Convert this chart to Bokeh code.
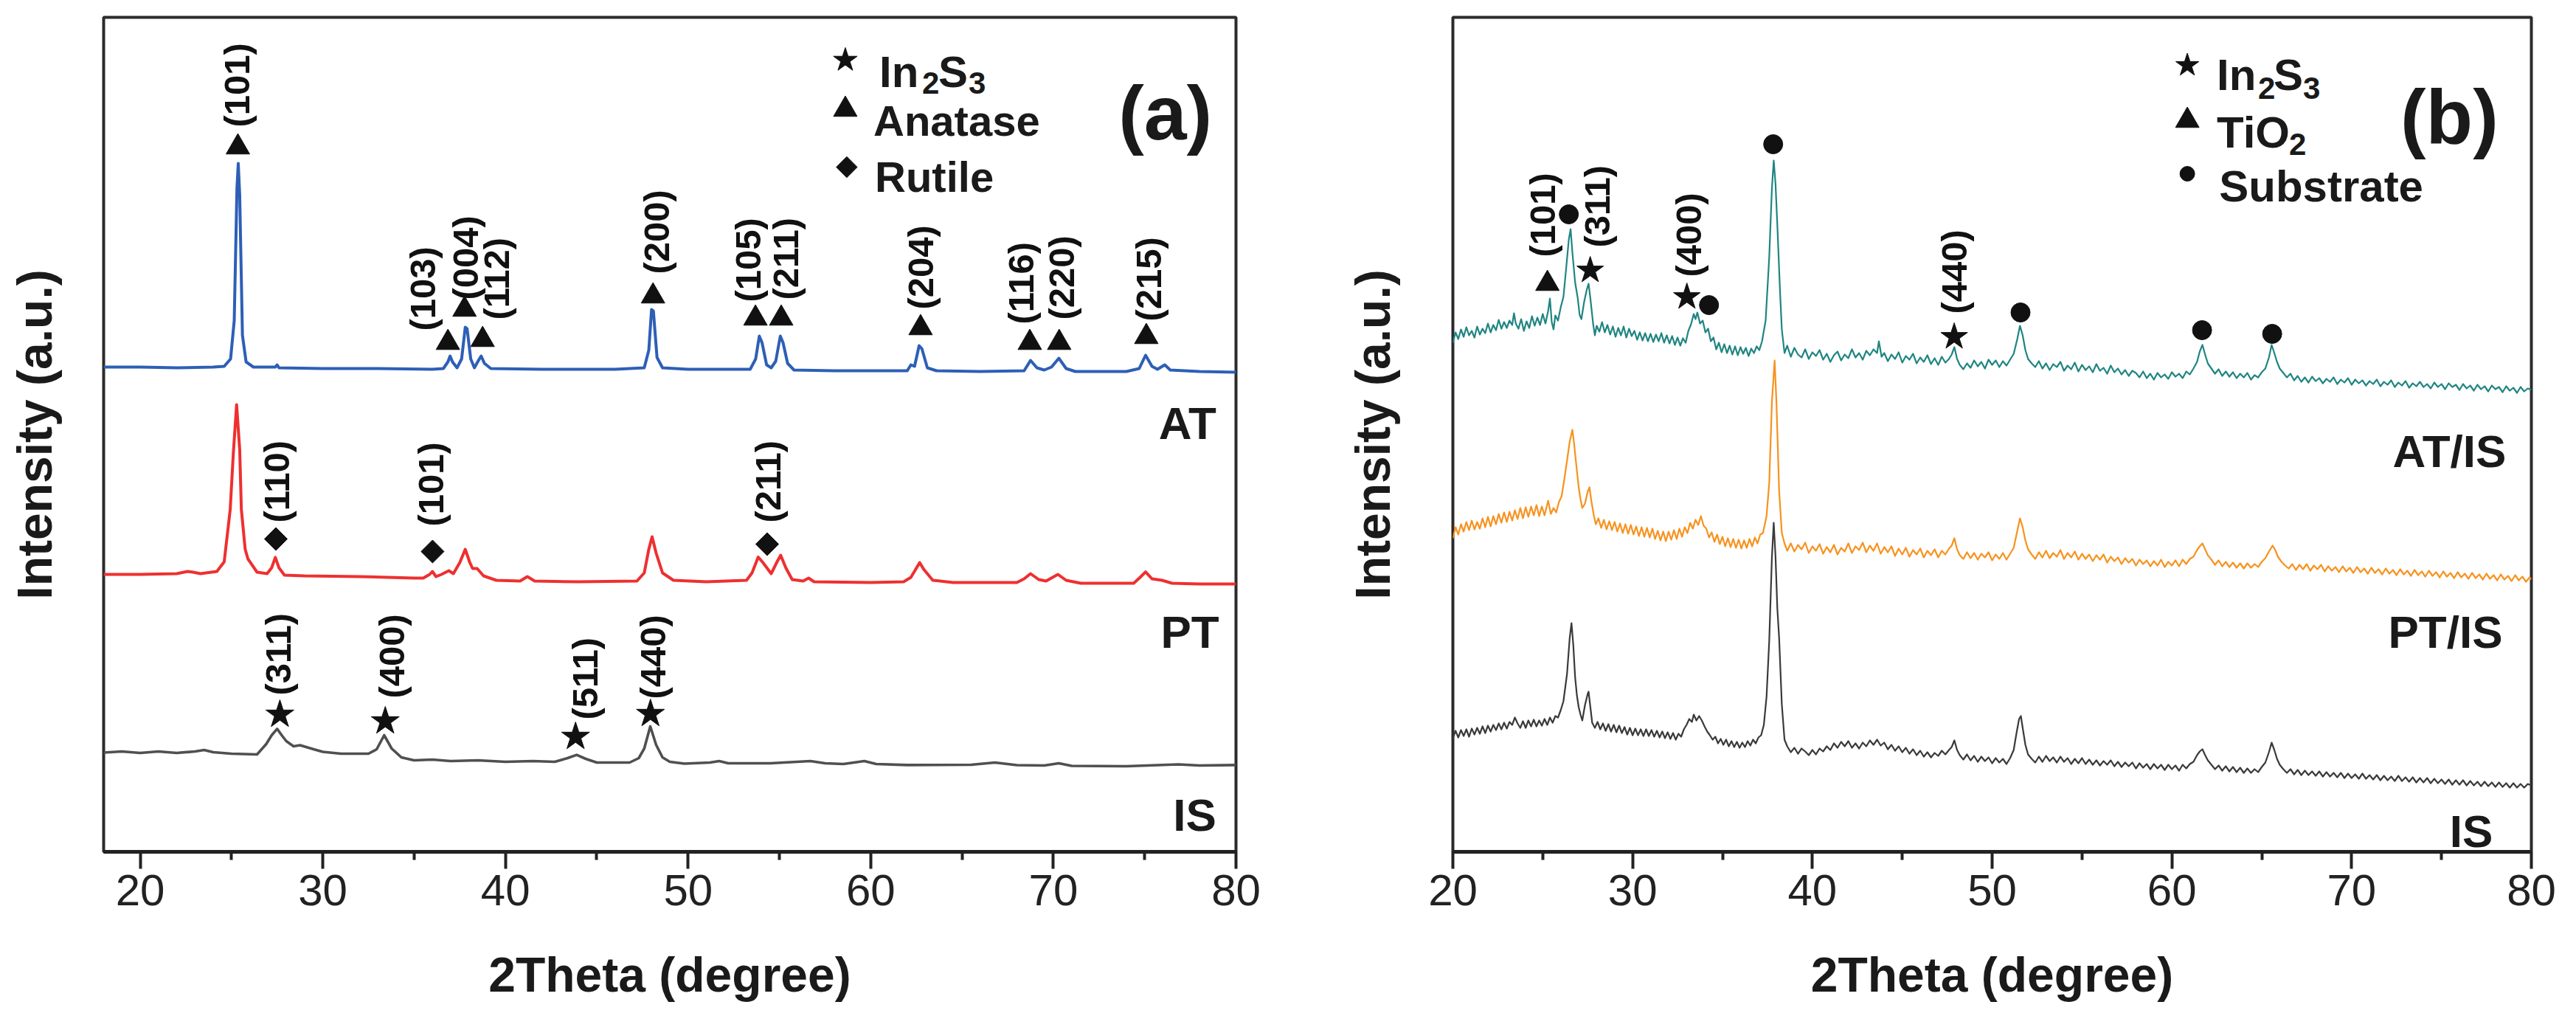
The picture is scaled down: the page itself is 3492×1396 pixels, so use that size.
import math
from bokeh.plotting import figure
from bokeh.layouts import row
from bokeh.models import Range1d, FixedTicker
from bokeh.core.properties import value
from bokeh.embed import file_html
from bokeh.resources import INLINE

FONT = "Liberation Sans"

# ---------------- data: panel (a) ----------------
major_ticks = [20, 30, 40, 50, 60, 70, 80]
minor_ticks = [25, 35, 45, 55, 65, 75]

AT_pattern = [(18.0, 657), (20, 657), (22, 656), (24.0, 657), (24.6, 658), (24.95, 668), (25.15, 720), (25.3, 900),
              (25.37, 933), (25.45, 890), (25.6, 700), (25.8, 664), (26.2, 657), (27.4, 657), (27.5, 660), (27.6, 656),
              (30, 655), (33, 655), (36.0, 654), (36.6, 655), (36.85, 664), (36.97, 672), (37.1, 664), (37.35, 656),
              (37.6, 668), (37.8, 711), (37.9, 709), (38.1, 668), (38.3, 656), (38.5, 665), (38.67, 672), (38.85, 662),
              (39.2, 655), (42, 654), (46, 654), (47.6, 656), (47.85, 680), (48.0, 735), (48.1, 733), (48.3, 670),
              (48.6, 656), (50, 654), (53.4, 654), (53.7, 668), (53.9, 699), (54.05, 690), (54.3, 660), (54.55, 656),
              (54.8, 665), (55.05, 699), (55.2, 690), (55.45, 662), (55.8, 653), (58, 652), (62.0, 652), (62.2, 660),
              (62.4, 658), (62.65, 686), (62.8, 682), (63.1, 656), (63.6, 652), (66, 651), (68.4, 652), (68.75, 666),
              (69.1, 656), (69.5, 653), (69.9, 657), (70.3, 669), (70.7, 655), (71.2, 651), (74.0, 651), (74.7, 655),
              (75.05, 673), (75.4, 658), (75.7, 654), (76.1, 660), (76.4, 653), (78, 651), (80, 650)]

PT_pattern = [(18.0, 376), (20, 376), (22.0, 377), (22.6, 380), (22.9, 379), (23.3, 377), (24.2, 380), (24.6, 393),
              (24.93, 464), (25.1, 540), (25.28, 606), (25.45, 545), (25.54, 464), (25.75, 410), (25.9, 397),
              (26.4, 379), (26.95, 377), (27.2, 385), (27.4, 399), (27.6, 385), (27.9, 375), (29, 374), (32, 373),
              (35.0, 371), (35.5, 371), (35.85, 376), (36.0, 380), (36.2, 373), (36.5, 376), (36.9, 381), (37.15, 377),
              (37.5, 392), (37.8, 410), (38.05, 392), (38.2, 384), (38.45, 384), (38.8, 374), (39.5, 368), (40.8, 367),
              (41.2, 373), (41.6, 367), (44, 366), (47.2, 367), (47.6, 378), (47.85, 410), (48.03, 427), (48.25, 405),
              (48.6, 378), (49.2, 368), (51, 366), (53.2, 368), (53.5, 378), (53.84, 399.5), (54.1, 392), (54.55, 377),
              (54.85, 392), (55.07, 402), (55.35, 385), (55.7, 369), (56.3, 367), (56.6, 371), (56.9, 366), (60, 365),
              (61.8, 366), (62.2, 372), (62.68, 392), (62.9, 383), (63.4, 368), (64.5, 365), (68.0, 365), (68.4, 370),
              (68.75, 377), (69.2, 369), (69.6, 367), (70.25, 376), (70.7, 368), (71.5, 364), (74.4, 364), (74.75, 372),
              (75.05, 379.4), (75.4, 370), (75.95, 368), (76.5, 364), (78, 363), (80, 363)]

IS_pattern_a = [(18.0, 134.5), (19, 136), (20, 134), (21, 136), (22, 134), (23.0, 136), (23.5, 138), (24.0, 135),
                (25, 133), (26.4, 132), (26.9, 146), (27.2, 158), (27.5, 166.6), (27.75, 158), (28.0, 150), (28.4, 143),
                (28.75, 144.5), (29.5, 139), (30.0, 135.5), (31, 133), (32.5, 133), (32.95, 139), (33.36, 158),
                (33.77, 140), (34.3, 128), (35, 124), (36, 125), (37, 123), (38.5, 124), (40, 122), (41.5, 123),
                (42.7, 122), (43.4, 127), (43.9, 131.4), (44.4, 126), (45, 121), (46.8, 121), (47.3, 127), (47.6, 140),
                (47.93, 170), (48.25, 145), (48.6, 128), (49.0, 122), (49.8, 119.5), (51.2, 121), (51.7, 123),
                (52.2, 120), (54.5, 120), (56.7, 123), (57.5, 120), (58.5, 119), (59.65, 123), (60.3, 119), (62, 117.6),
                (65.5, 118), (66.8, 121), (68, 117.5), (69.5, 117), (70.3, 120), (71, 116.5), (74, 116), (76.85, 118.5),
                (78, 117), (80, 117.6)]

# (label, marker x, marker y, label x, label bottom y)
anatase_peaks_a = [("(101)", 25.35, 955, 25.31, 982), ("(103)", 36.85, 690, 35.48, 706),
                   ("(004)", 37.76, 735, 37.82, 748), ("(112)", 38.75, 694, 39.52, 721),
                   ("(200)", 48.08, 753, 48.28, 783), ("(105)", 53.69, 723, 53.28, 745),
                   ("(211)", 55.10, 723, 55.34, 748), ("(204)", 62.73, 710, 62.73, 735),
                   ("(116)", 68.71, 690, 68.22, 715), ("(220)", 70.32, 690, 70.44, 721),
                   ("(215)", 75.09, 698, 75.21, 719)]
rutile_peaks_a = [("(110)", 27.43, 424, 27.49, 446), ("(101)", 36.01, 407, 35.92, 441),
                  ("(211)", 54.33, 417, 54.37, 446)]
in2s3_peaks_a = [("(311)", 27.65, 186, 27.57, 212), ("(400)", 33.42, 177, 33.77, 208),
                 ("(511)", 43.84, 156, 44.36, 179), ("(440)", 47.94, 187, 48.08, 207)]

sample_names_a = ["AT", "PT", "IS"]

# ---------------- data: panel (b) ----------------
ATIS_pattern = [
    (20.0, 690), (20.15, 704), (20.3, 695), (20.45, 708), (20.6, 698), (20.75, 711), (20.9, 700), (21.05, 706),
    (21.2, 697), (21.35, 712), (21.5, 701), (21.65, 709), (21.8, 703), (21.95, 716), (22.1, 704), (22.25, 714),
    (22.4, 707), (22.55, 721), (22.7, 709), (22.85, 718), (23.0, 710), (23.15, 720), (23.3, 714), (23.4, 730),
    (23.5, 716), (23.65, 709), (23.8, 722), (23.95, 706), (24.1, 719), (24.25, 710), (24.4, 726), (24.55, 713),
    (24.7, 724), (24.85, 714), (25.0, 729), (25.15, 716), (25.3, 733), (25.4, 750), (25.5, 718), (25.6, 708),
    (25.7, 727), (25.85, 720), (26.0, 738), (26.15, 752), (26.3, 790), (26.45, 830), (26.55, 844), (26.65, 812),
    (26.8, 772), (26.95, 750), (27.05, 728), (27.15, 722), (27.3, 745), (27.45, 762), (27.55, 770), (27.65, 750),
    (27.8, 716), (27.9, 700), (28.0, 713), (28.15, 705), (28.3, 718), (28.45, 704), (28.6, 714), (28.75, 701),
    (28.9, 712), (29.05, 698), (29.2, 710), (29.35, 700), (29.5, 712), (29.65, 697), (29.8, 709), (29.95, 699),
    (30.1, 706), (30.25, 694), (30.4, 704), (30.55, 693), (30.7, 703), (30.85, 692), (31.0, 702), (31.15, 691),
    (31.3, 701), (31.45, 692), (31.6, 703), (31.75, 690), (31.9, 700), (32.05, 689), (32.2, 699), (32.35, 687),
    (32.5, 697), (32.65, 686), (32.8, 696), (32.95, 690), (33.1, 706), (33.25, 715), (33.4, 729), (33.5, 722),
    (33.6, 731), (33.75, 716), (33.9, 720), (34.05, 704), (34.2, 709), (34.35, 692), (34.5, 697), (34.65, 681),
    (34.8, 690), (34.95, 677), (35.1, 688), (35.25, 676), (35.4, 686), (35.55, 674), (35.7, 685), (35.85, 673),
    (36.0, 684), (36.15, 675), (36.3, 683), (36.45, 672), (36.6, 682), (36.75, 676), (36.9, 685), (37.05, 680),
    (37.2, 692), (37.4, 720), (37.6, 806), (37.75, 900), (37.85, 937), (37.95, 905), (38.05, 850), (38.2, 760),
    (38.3, 708), (38.45, 676),
    (38.6, 686), (38.8, 671), (39.0, 683), (39.2, 674), (39.4, 670), (39.6, 681), (39.8, 668), (40.0, 677),
    (40.2, 672), (40.4, 680), (40.6, 667), (40.8, 675), (41.0, 664), (41.2, 673), (41.4, 678), (41.6, 666),
    (41.8, 674), (42.0, 669), (42.2, 681), (42.4, 670), (42.6, 676), (42.8, 667), (43.0, 679), (43.2, 673),
    (43.4, 681), (43.6, 676), (43.7, 692), (43.85, 671), (44.0, 676), (44.2, 665), (44.4, 674), (44.6, 668),
    (44.8, 677), (45.0, 663), (45.2, 672), (45.4, 667), (45.6, 675), (45.8, 662), (46.0, 670), (46.2, 664),
    (46.4, 673), (46.6, 661), (46.8, 669), (47.0, 660), (47.2, 671), (47.4, 663), (47.6, 668), (47.75, 674),
    (47.9, 684), (48.05, 668), (48.2, 660), (48.4, 654), (48.6, 662), (48.8, 656), (49.0, 666), (49.2, 658),
    (49.4, 664), (49.6, 655), (49.8, 667), (50.0, 660), (50.2, 666), (50.4, 657), (50.6, 665), (50.8, 659),
    (51.0, 667), (51.2, 675), (51.4, 695), (51.55, 713), (51.7, 700), (51.85, 680), (52.0, 668), (52.2, 662),
    (52.4, 657), (52.6, 665), (52.8, 655), (53.0, 662), (53.2, 653), (53.4, 661), (53.6, 657), (53.8, 664),
    (54.0, 652), (54.2, 659), (54.4, 654), (54.6, 663), (54.8, 651), (55.0, 660), (55.2, 653), (55.4, 658),
    (55.6, 650), (55.8, 661), (56.0, 652), (56.2, 656), (56.4, 648), (56.6, 659), (56.8, 650), (57.0, 655),
    (57.2, 647), (57.4, 653), (57.6, 645), (57.8, 652), (58.0, 649), (58.2, 643), (58.4, 651), (58.6, 642),
    (58.8, 648), (59.0, 640), (59.2, 649), (59.4, 643), (59.6, 647), (59.8, 641), (60.0, 650), (60.2, 644),
    (60.4, 648), (60.6, 642), (60.8, 651), (61.0, 647), (61.2, 655), (61.4, 664), (61.55, 678), (61.7, 687),
    (61.85, 674), (62.0, 662), (62.2, 655), (62.4, 648), (62.6, 654), (62.8, 645), (63.0, 651), (63.2, 644),
    (63.4, 650), (63.6, 642), (63.8, 648), (64.0, 643), (64.2, 649), (64.4, 640), (64.6, 646), (64.8, 643),
    (65.0, 650), (65.2, 655), (65.4, 670), (65.55, 687), (65.7, 676), (65.85, 664), (66.0, 655), (66.2, 649),
    (66.4, 643), (66.6, 648), (66.8, 639), (67.0, 645), (67.2, 637), (67.4, 643), (67.6, 636), (67.8, 644),
    (68.0, 638), (68.2, 642), (68.4, 635), (68.6, 641), (68.8, 637), (69.0, 643), (69.2, 634), (69.4, 640),
    (69.6, 636), (69.8, 642), (70.0, 633), (70.2, 640), (70.4, 635), (70.6, 639), (70.8, 632), (71.0, 638),
    (71.2, 634), (71.4, 640), (71.6, 631), (71.8, 637), (72.0, 633), (72.2, 639), (72.4, 630), (72.6, 636),
    (72.8, 632), (73.0, 638), (73.2, 629), (73.4, 635), (73.6, 631), (73.8, 637), (74.0, 630), (74.2, 634),
    (74.4, 628), (74.6, 636), (74.8, 630), (75.0, 634), (75.2, 627), (75.4, 635), (75.6, 630), (75.8, 633),
    (76.0, 626), (76.2, 634), (76.4, 628), (76.6, 632), (76.8, 625), (77.0, 633), (77.2, 627), (77.4, 631),
    (77.6, 624), (77.8, 632), (78.0, 627), (78.2, 630), (78.4, 623), (78.6, 631), (78.8, 625), (79.0, 629),
    (79.2, 622), (79.4, 630), (79.6, 624), (79.8, 628), (80.0, 626)]

PTIS_pattern = [
    (20.0, 425), (20.15, 440), (20.3, 430), (20.45, 444), (20.6, 434), (20.75, 447), (20.9, 436), (21.05, 449),
    (21.2, 437), (21.35, 447), (21.5, 438), (21.65, 452), (21.8, 440), (21.95, 454), (22.1, 441), (22.25, 455),
    (22.4, 444), (22.55, 458), (22.7, 446), (22.85, 460), (23.0, 447), (23.15, 461), (23.3, 449), (23.45, 463),
    (23.6, 451), (23.75, 466), (23.9, 452), (24.05, 467), (24.2, 454), (24.35, 468), (24.5, 456), (24.65, 470),
    (24.8, 455), (24.95, 468), (25.1, 456), (25.3, 476), (25.45, 458), (25.6, 466), (25.75, 460), (25.9, 474),
    (26.05, 482), (26.2, 505), (26.35, 530), (26.5, 556), (26.65, 572), (26.75, 552), (26.85, 528), (27.0, 494),
    (27.1, 478), (27.2, 466), (27.35, 472), (27.5, 488), (27.6, 494), (27.7, 476), (27.85, 455), (27.95, 444),
    (28.1, 452), (28.25, 439), (28.4, 450), (28.55, 437), (28.7, 448), (28.85, 436), (29.0, 447), (29.15, 434),
    (29.3, 445), (29.45, 432), (29.6, 444), (29.75, 431), (29.9, 443), (30.05, 430), (30.2, 441), (30.35, 428),
    (30.5, 440), (30.65, 427), (30.8, 439), (30.95, 426), (31.1, 438), (31.25, 424), (31.4, 435), (31.55, 422),
    (31.7, 434), (31.85, 421), (32.0, 434), (32.15, 423), (32.3, 436), (32.45, 424), (32.6, 438), (32.75, 427),
    (32.9, 440), (33.05, 432), (33.2, 446), (33.35, 438), (33.5, 450), (33.65, 443), (33.8, 455), (33.95, 442),
    (34.1, 438), (34.25, 426), (34.4, 433), (34.55, 420), (34.7, 430), (34.85, 417), (35.0, 427), (35.15, 414),
    (35.3, 425), (35.45, 413), (35.6, 424), (35.75, 412), (35.9, 423), (36.05, 411), (36.2, 422), (36.35, 412),
    (36.5, 424), (36.65, 414), (36.8, 426), (36.95, 418), (37.1, 430), (37.25, 432), (37.45, 455), (37.6, 500),
    (37.75, 610), (37.9, 666), (38.0, 610), (38.15, 490), (38.3, 432), (38.45, 418),
    (38.6, 408), (38.8, 418), (39.0, 407), (39.2, 416), (39.4, 410), (39.6, 419), (39.8, 405), (40.0, 414),
    (40.2, 408), (40.4, 417), (40.6, 404), (40.8, 413), (41.0, 406), (41.2, 416), (41.4, 403), (41.6, 412),
    (41.8, 407), (42.0, 418), (42.2, 405), (42.4, 414), (42.6, 409), (42.8, 419), (43.0, 406), (43.2, 415),
    (43.4, 408), (43.6, 418), (43.8, 404), (44.0, 413), (44.2, 406), (44.4, 414), (44.6, 401), (44.8, 411),
    (45.0, 403), (45.2, 412), (45.4, 400), (45.6, 409), (45.8, 403), (46.0, 411), (46.2, 399), (46.4, 408),
    (46.6, 402), (46.8, 410), (47.0, 399), (47.2, 408), (47.4, 403), (47.6, 411), (47.75, 415), (47.9, 425),
    (48.05, 410), (48.2, 402), (48.4, 397), (48.6, 406), (48.8, 398), (49.0, 405), (49.2, 396), (49.4, 404),
    (49.6, 399), (49.8, 406), (50.0, 395), (50.2, 403), (50.4, 397), (50.6, 405), (50.8, 396), (51.0, 404),
    (51.2, 412), (51.4, 435), (51.55, 452), (51.7, 440), (51.85, 422), (52.0, 410), (52.2, 403), (52.4, 397),
    (52.6, 406), (52.8, 399), (53.0, 408), (53.2, 398), (53.4, 405), (53.6, 400), (53.8, 409), (54.0, 397),
    (54.2, 405), (54.4, 399), (54.6, 407), (54.8, 396), (55.0, 404), (55.2, 397), (55.4, 403), (55.6, 394),
    (55.8, 402), (56.0, 396), (56.2, 403), (56.4, 392), (56.6, 400), (56.8, 394), (57.0, 399), (57.2, 390),
    (57.4, 398), (57.6, 392), (57.8, 397), (58.0, 388), (58.2, 396), (58.4, 390), (58.6, 395), (58.8, 387),
    (59.0, 394), (59.2, 388), (59.4, 396), (59.6, 386), (59.8, 393), (60.0, 388), (60.2, 395), (60.4, 387),
    (60.6, 396), (60.8, 390), (61.0, 397), (61.2, 400), (61.4, 409), (61.55, 414), (61.7, 418), (61.85, 410),
    (62.0, 402), (62.2, 396), (62.4, 389), (62.6, 395), (62.8, 387), (63.0, 393), (63.2, 386), (63.4, 392),
    (63.6, 385), (63.8, 391), (64.0, 384), (64.2, 391), (64.4, 385), (64.6, 390), (64.8, 386), (65.0, 393),
    (65.2, 398), (65.4, 407), (65.6, 415), (65.75, 409), (65.9, 400), (66.1, 393), (66.3, 388), (66.5, 384),
    (66.7, 390), (66.9, 382), (67.1, 389), (67.3, 383), (67.5, 390), (67.7, 381), (67.9, 388), (68.1, 383),
    (68.3, 389), (68.5, 380), (68.7, 387), (68.9, 381), (69.1, 386), (69.3, 379), (69.5, 387), (69.7, 380),
    (69.9, 385), (70.1, 378), (70.3, 386), (70.5, 379), (70.7, 384), (70.9, 377), (71.1, 385), (71.3, 378),
    (71.5, 383), (71.7, 376), (71.9, 384), (72.1, 377), (72.3, 382), (72.5, 375), (72.7, 383), (72.9, 376),
    (73.1, 381), (73.3, 374), (73.5, 382), (73.7, 375), (73.9, 380), (74.1, 373), (74.3, 381), (74.5, 374),
    (74.7, 379), (74.9, 372), (75.1, 380), (75.3, 373), (75.5, 378), (75.7, 371), (75.9, 379), (76.1, 372),
    (76.3, 377), (76.5, 370), (76.7, 378), (76.9, 371), (77.1, 376), (77.3, 369), (77.5, 377), (77.7, 370),
    (77.9, 375), (78.1, 368), (78.3, 376), (78.5, 369), (78.7, 374), (78.9, 367), (79.1, 375), (79.3, 368),
    (79.5, 373), (79.7, 366), (79.9, 372), (80.0, 369)]

IS_pattern_b = [
    (20.0, 154), (20.15, 164), (20.3, 155), (20.45, 165), (20.6, 157), (20.75, 166), (20.9, 156), (21.05, 167),
    (21.2, 159), (21.35, 168), (21.5, 160), (21.65, 170), (21.8, 161), (21.95, 171), (22.1, 163), (22.25, 172),
    (22.4, 165), (22.55, 174), (22.7, 166), (22.85, 175), (23.0, 167), (23.15, 176), (23.3, 172), (23.45, 182),
    (23.6, 174), (23.75, 168), (23.9, 177), (24.05, 168), (24.2, 178), (24.35, 170), (24.5, 179), (24.65, 170),
    (24.8, 178), (24.95, 171), (25.1, 180), (25.25, 172), (25.4, 182), (25.55, 175), (25.7, 184), (25.85, 182),
    (26.0, 192), (26.15, 204), (26.35, 241), (26.5, 290), (26.6, 310), (26.7, 280), (26.8, 237), (26.9, 212),
    (27.0, 196), (27.1, 186), (27.2, 178), (27.35, 199), (27.5, 214), (27.55, 217), (27.65, 196), (27.75, 175),
    (27.9, 168), (28.05, 176), (28.2, 166), (28.35, 174), (28.5, 164), (28.65, 173), (28.8, 163), (28.95, 172),
    (29.1, 162), (29.25, 171), (29.4, 161), (29.55, 169), (29.7, 159), (29.85, 168), (30.0, 158), (30.15, 167),
    (30.3, 158), (30.45, 166), (30.6, 157), (30.75, 166), (30.9, 157), (31.05, 165), (31.2, 156), (31.35, 164),
    (31.5, 155), (31.65, 163), (31.8, 154), (31.95, 162), (32.1, 153), (32.25, 161), (32.4, 152), (32.55, 160),
    (32.7, 156), (32.85, 166), (33.0, 172), (33.15, 180), (33.3, 176), (33.4, 186), (33.55, 178), (33.7, 184),
    (33.85, 178), (34.0, 170), (34.15, 163), (34.3, 158), (34.45, 152), (34.6, 156), (34.75, 147), (34.9, 153),
    (35.05, 145), (35.2, 152), (35.35, 143), (35.5, 150), (35.65, 142), (35.8, 149), (35.95, 141), (36.1, 148),
    (36.25, 142), (36.4, 150), (36.55, 144), (36.7, 152), (36.85, 147), (37.0, 155), (37.15, 158), (37.3, 172),
    (37.45, 210), (37.6, 286), (37.75, 400), (37.85, 446), (37.95, 400), (38.05, 330), (38.15, 290), (38.3, 200),
    (38.45, 152),
    (38.6, 143), (38.8, 135), (39.0, 141), (39.2, 133), (39.4, 140), (39.6, 136), (39.8, 131), (40.0, 138),
    (40.2, 132), (40.4, 140), (40.6, 136), (40.8, 143), (41.0, 138), (41.2, 147), (41.4, 141), (41.6, 149),
    (41.8, 143), (42.0, 150), (42.2, 141), (42.4, 147), (42.6, 140), (42.8, 148), (43.0, 143), (43.2, 151),
    (43.4, 145), (43.6, 152), (43.8, 144), (44.0, 148), (44.2, 139), (44.4, 145), (44.6, 137), (44.8, 143),
    (45.0, 135), (45.2, 141), (45.4, 133), (45.6, 139), (45.8, 131), (46.0, 137), (46.2, 129), (46.4, 135),
    (46.6, 128), (46.8, 134), (47.0, 130), (47.2, 137), (47.4, 132), (47.6, 138), (47.75, 142), (47.9, 151),
    (48.05, 138), (48.2, 131), (48.4, 125), (48.6, 132), (48.8, 124), (49.0, 130), (49.2, 122), (49.4, 129),
    (49.6, 123), (49.8, 128), (50.0, 120), (50.2, 127), (50.4, 121), (50.6, 126), (50.8, 119), (51.0, 127),
    (51.2, 138), (51.35, 160), (51.5, 180), (51.6, 184), (51.7, 168), (51.85, 145), (52.0, 132), (52.2, 126),
    (52.4, 121), (52.6, 129), (52.8, 122), (53.0, 130), (53.2, 123), (53.4, 128), (53.6, 121), (53.8, 129),
    (54.0, 122), (54.2, 127), (54.4, 119), (54.6, 126), (54.8, 120), (55.0, 127), (55.2, 119), (55.4, 125),
    (55.6, 118), (55.8, 124), (56.0, 117), (56.2, 123), (56.4, 118), (56.6, 124), (56.8, 116), (57.0, 122),
    (57.2, 115), (57.4, 121), (57.6, 116), (57.8, 121), (58.0, 113), (58.2, 120), (58.4, 114), (58.6, 119),
    (58.8, 112), (59.0, 119), (59.2, 113), (59.4, 118), (59.6, 111), (59.8, 118), (60.0, 112), (60.2, 117),
    (60.4, 110), (60.6, 118), (60.8, 113), (61.0, 119), (61.2, 122), (61.4, 131), (61.55, 136), (61.7, 139),
    (61.85, 131), (62.0, 124), (62.2, 118), (62.4, 112), (62.6, 117), (62.8, 110), (63.0, 116), (63.2, 109),
    (63.4, 115), (63.6, 108), (63.8, 114), (64.0, 107), (64.2, 113), (64.4, 107), (64.6, 112), (64.8, 108),
    (65.0, 115), (65.2, 121), (65.4, 135), (65.55, 148), (65.7, 138), (65.85, 126), (66.0, 118), (66.2, 112),
    (66.4, 107), (66.6, 112), (66.8, 105), (67.0, 111), (67.2, 104), (67.4, 110), (67.6, 104), (67.8, 109),
    (68.0, 103), (68.2, 109), (68.4, 102), (68.6, 108), (68.8, 102), (69.0, 107), (69.2, 101), (69.4, 107),
    (69.6, 100), (69.8, 106), (70.0, 100), (70.2, 105), (70.4, 99), (70.6, 106), (70.8, 99), (71.0, 104),
    (71.2, 98), (71.4, 104), (71.6, 97), (71.8, 103), (72.0, 97), (72.2, 102), (72.4, 96), (72.6, 103),
    (72.8, 96), (73.0, 101), (73.2, 95), (73.4, 101), (73.6, 94), (73.8, 100), (74.0, 94), (74.2, 100),
    (74.4, 93), (74.6, 99), (74.8, 93), (75.0, 98), (75.2, 92), (75.4, 98), (75.6, 91), (75.8, 97),
    (76.0, 91), (76.2, 97), (76.4, 90), (76.6, 96), (76.8, 90), (77.0, 95), (77.2, 89), (77.4, 95),
    (77.6, 89), (77.8, 94), (78.0, 88), (78.2, 94), (78.4, 88), (78.6, 93), (78.8, 87), (79.0, 93),
    (79.2, 87), (79.4, 92), (79.6, 87), (79.8, 92), (80.0, 90)]

# (label, marker x, marker y, label x, label bottom y)
in2s3_peaks_b = [("(311)", 27.64, 788, 28.01, 819), ("(400)", 33.02, 752, 33.10, 779),
                 ("(440)", 47.89, 698, 47.87, 729)]
tio2_peaks_b = [("(101)", 25.26, 770, 24.97, 806)]
substrate_x = [26.45, 34.25, 37.82, 51.58, 61.68, 65.58]
substrate_y = [864, 741, 959, 731, 707, 702]

sample_names_b = ["AT/IS", "PT/IS", "IS"]


def make_fig(xr, left, right, frame_w, ylab_standoff):
    p = figure(frame_width=frame_w, frame_height=1131, x_range=Range1d(*xr), y_range=Range1d(0, 1131),
               output_backend="svg", toolbar_location=None,
               min_border_left=left, min_border_right=right, min_border_top=23, min_border_bottom=226)
    p.grid.grid_line_color = None
    p.background_fill_color = "white"
    p.border_fill_color = "white"
    p.outline_line_color = "#2b2b2b"
    p.outline_line_width = 4
    p.outline_line_alpha = 1.0
    xa = p.xaxis[0]
    xa.ticker = FixedTicker(ticks=major_ticks, minor_ticks=minor_ticks)
    xa.axis_line_color = "#222222"
    xa.axis_line_width = 5
    xa.major_tick_line_color = "#222222"
    xa.major_tick_line_width = 4
    xa.major_tick_out = 23
    xa.major_tick_in = 0
    xa.minor_tick_line_color = "#222222"
    xa.minor_tick_line_width = 4
    xa.minor_tick_out = 11
    xa.minor_tick_in = 0
    xa.major_label_text_font = FONT
    xa.major_label_text_font_size = "60px"
    xa.major_label_text_color = "#222222"
    xa.major_label_standoff = 8
    xa.axis_label = "2Theta (degree)"
    xa.axis_label_text_font = FONT
    xa.axis_label_text_font_size = "66px"
    xa.axis_label_text_font_style = "bold"
    xa.axis_label_text_color = "#1a1a1a"
    xa.axis_label_standoff = 54
    ya = p.yaxis[0]
    ya.ticker = FixedTicker(ticks=[])
    ya.axis_line_color = None
    ya.major_tick_line_color = None
    ya.minor_tick_line_color = None
    ya.major_tick_out = 0
    ya.major_label_text_font_size = "0px"
    ya.axis_label = "Intensity (a.u.)"
    ya.axis_label_text_font = FONT
    ya.axis_label_text_font_size = "66px"
    ya.axis_label_text_font_style = "bold"
    ya.axis_label_text_color = "#1a1a1a"
    ya.axis_label_standoff = ylab_standoff
    return p


def vlabels(p, rows):
    p.text(x=[r[3] for r in rows], y=[r[4] for r in rows], text=[r[0] for r in rows], angle=math.pi / 2,
           text_align="left", text_baseline="middle", text_font=value(FONT), text_font_style="bold",
           text_font_size=value("49px"), text_color="#111111")


def markers(p, rows, marker, size, angle=0.0):
    p.scatter(x=[r[1] for r in rows], y=[r[2] for r in rows], marker=marker, size=size, angle=angle,
              fill_color="#111111", line_color="#111111")


def txt(p, x, y, s, size, align="left", xoff=0, yoff=0):
    p.text(x=[x], y=[y], text=[s], text_align=align, text_baseline="alphabetic", text_font=value(FONT),
           text_font_style="bold", text_font_size=value(size), text_color="#1a1a1a", x_offset=xoff, y_offset=yoff)


def trace(p, pattern, color, width):
    xs = [t[0] for t in pattern]
    ys = [t[1] for t in pattern]
    p.line(xs, ys, line_color=color, line_width=width, line_join="round")


# ---------------- panel (a) ----------------
pa = make_fig((18, 80), 140, 125, 1535, 57)
trace(pa, AT_pattern, "#2d5fb6", 4)
trace(pa, PT_pattern, "#ee3030", 4)
trace(pa, IS_pattern_a, "#505050", 3.6)

markers(pa, anatase_peaks_a, "triangle", 32)
vlabels(pa, anatase_peaks_a)
markers(pa, rutile_peaks_a, "square", 22, math.pi / 4)
vlabels(pa, rutile_peaks_a)
markers(pa, in2s3_peaks_a, "star", 40)
vlabels(pa, in2s3_peaks_a)

# legend (a)
pa.scatter([58.61], [1073], marker="star", size=34, fill_color="#111111", line_color="#111111")
pa.scatter([58.61], [1006], marker="triangle", size=32, fill_color="#111111", line_color="#111111")
pa.scatter([58.69], [928], marker="square", size=20, angle=math.pi / 4, fill_color="#111111", line_color="#111111")
txt(pa, 60.47, 1057, "In", "60px")
txt(pa, 60.47, 1057, "2", "42px", xoff=58, yoff=15)
txt(pa, 60.47, 1057, "S", "60px", xoff=80)
txt(pa, 60.47, 1057, "3", "42px", xoff=121, yoff=15)
txt(pa, 60.15, 991, "Anatase", "58px")
txt(pa, 60.23, 915, "Rutile", "58px")
txt(pa, 76.13, 1002, "(a)", "104px", align="center")

txt(pa, 78.92, 581, sample_names_a[0], "62px", align="right")
txt(pa, 79.08, 298, sample_names_a[1], "62px", align="right")
txt(pa, 78.92, 50, sample_names_a[2], "62px", align="right")

# ---------------- panel (b) ----------------
pb = make_fig((20, 80), 169, 45, 1462, 72)
trace(pb, ATIS_pattern, "#1f8582", 2.2)
trace(pb, PTIS_pattern, "#f7921e", 2.2)
trace(pb, IS_pattern_b, "#3a3a3a", 2.2)

markers(pb, tio2_peaks_b, "triangle", 32)
vlabels(pb, tio2_peaks_b)
markers(pb, in2s3_peaks_b, "star", 38)
vlabels(pb, in2s3_peaks_b)
pb.scatter(substrate_x, substrate_y, marker="circle", size=26, fill_color="#111111", line_color="#111111")

# legend (b)
pb.scatter([60.86], [1066], marker="star", size=33, fill_color="#111111", line_color="#111111")
pb.scatter([60.86], [991], marker="triangle", size=32, fill_color="#111111", line_color="#111111")
pb.scatter([60.86], [919], marker="circle", size=20, fill_color="#111111", line_color="#111111")
txt(pb, 62.5, 1053, "In", "60px")
txt(pb, 62.5, 1053, "2", "42px", xoff=56, yoff=18)
txt(pb, 62.5, 1053, "S", "60px", xoff=77)
txt(pb, 62.5, 1053, "3", "42px", xoff=117, yoff=18)
txt(pb, 62.5, 975, "TiO", "60px")
txt(pb, 62.5, 975, "2", "42px", xoff=98, yoff=16)
txt(pb, 62.63, 902, "Substrate", "60px")
txt(pb, 75.44, 997, "(b)", "104px", align="center")

txt(pb, 78.6, 543, sample_names_b[0], "62px", align="right")
txt(pb, 78.4, 298, sample_names_b[1], "62px", align="right")
txt(pb, 77.86, 28, sample_names_b[2], "62px", align="right")

layout = row(pa, pb)
open("out.html", "w").write(file_html(layout, INLINE))
